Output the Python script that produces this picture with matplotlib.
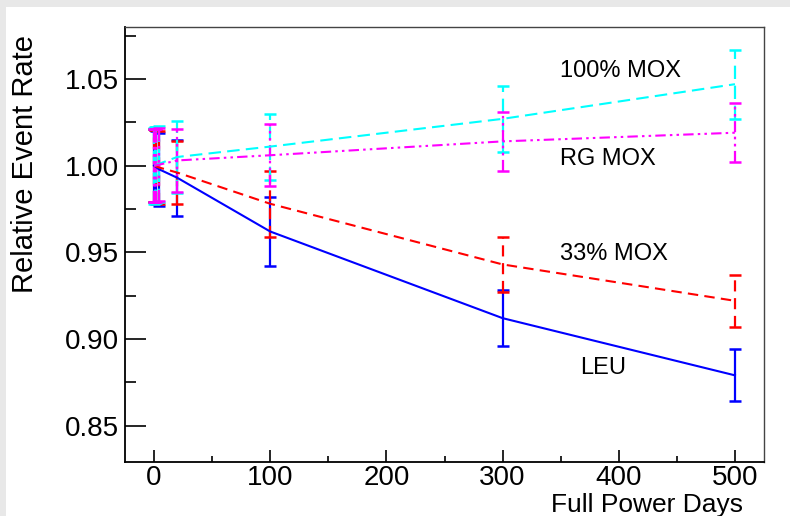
import numpy as np
import matplotlib.pyplot as plt
from matplotlib.patches import Rectangle
from matplotlib.ticker import MultipleLocator

plt.rcParams['font.family'] = ['Liberation Sans', 'DejaVu Sans']

# data
days = [0, 1, 2, 4, 20, 100, 300, 500]
leu = [1.000, 0.9995, 0.999, 0.998, 0.993, 0.962, 0.912, 0.879]
leu_err = [0.021, 0.021, 0.021, 0.021, 0.022, 0.020, 0.016, 0.015]
mox33 = [1.000, 0.9998, 0.9995, 0.999, 0.996, 0.978, 0.943, 0.922]
mox33_err = [0.021, 0.021, 0.021, 0.021, 0.018, 0.019, 0.016, 0.015]
mox100 = [1.000, 1.0002, 1.0005, 1.001, 1.005, 1.011, 1.027, 1.047]
mox100_err = [0.022, 0.022, 0.022, 0.022, 0.021, 0.019, 0.019, 0.020]
rgmox = [1.000, 1.0001, 1.0002, 1.0005, 1.003, 1.006, 1.014, 1.019]
rgmox_err = [0.021, 0.021, 0.021, 0.021, 0.018, 0.018, 0.017, 0.017]

labels = ['LEU', '33% MOX', '100% MOX', 'RG MOX']
label_pos = [(367, 0.8833), (349, 0.9489), (349, 1.0546), (349, 1.004)]

W, H = 790, 516
fig = plt.figure(figsize=(W / 100, H / 100), dpi=100)
fig.patch.set_facecolor('#e8e8e8')
# white canvas inside the grey frame
bg = fig.add_axes([6 / W, 0, 1 - 6 / W, 1 - 7 / H], zorder=-5)
bg.set_axis_off()
bg.add_patch(Rectangle((0, 0), 1, 1, transform=bg.transAxes, facecolor='white', edgecolor='none'))

ax = fig.add_axes([125 / W, 1 - 462 / H, (764 - 125) / W, (462 - 27) / H])
ax.patch.set_alpha(0)

series = [
    (leu, leu_err, 'blue', '-'),
    (mox33, mox33_err, 'red', (0, (5, 3))),
    (mox100, mox100_err, 'cyan', (0, (6, 3))),
    (rgmox, rgmox_err, 'magenta', (0, (5, 2, 1.2, 2, 1.2, 2))),
]
for vals, errs, col, ls in series:
    line, caps, bars = ax.errorbar(days, vals, yerr=errs, color=col, lw=1.5,
                                   linestyle=ls, capsize=4, capthick=1.8, elinewidth=1.6)
    for b in bars:
        b.set_linestyle(ls)

for txt, (x, y) in zip(labels, label_pos):
    ax.text(x, y, txt, fontsize=17, ha='left', va='center')

ax.set_xlim(-25, 525)
ax.set_ylim(0.829, 1.08)
ax.xaxis.set_major_locator(MultipleLocator(100))
ax.xaxis.set_minor_locator(MultipleLocator(50))
ax.yaxis.set_major_locator(MultipleLocator(0.05))
ax.yaxis.set_minor_locator(MultipleLocator(0.025))
ax.yaxis.set_major_formatter(plt.FormatStrFormatter('%.2f'))
ax.tick_params(axis='both', which='both', direction='in', top=False, right=False,
               labelsize=20, width=1.2)
ax.tick_params(axis='y', which='major', length=15, pad=4)
ax.tick_params(axis='y', which='minor', length=8)
ax.tick_params(axis='x', which='major', length=9, pad=2.5)
ax.tick_params(axis='x', which='minor', length=4.5)
for s in ['left', 'bottom']:
    ax.spines[s].set_linewidth(1.3)
for s in ['top', 'right']:
    ax.spines[s].set_linewidth(1.0)
    ax.spines[s].set_color('#444444')

fig.text(25 / W, 1 - 35 / H, 'Relative Event Rate', rotation=90, ha='center', va='top', fontsize=21)
fig.text(743 / W, 1 - 512 / H, 'Full Power Days', ha='right', va='baseline', fontsize=19)

fig.savefig('out.png', dpi=100, facecolor=fig.get_facecolor())
